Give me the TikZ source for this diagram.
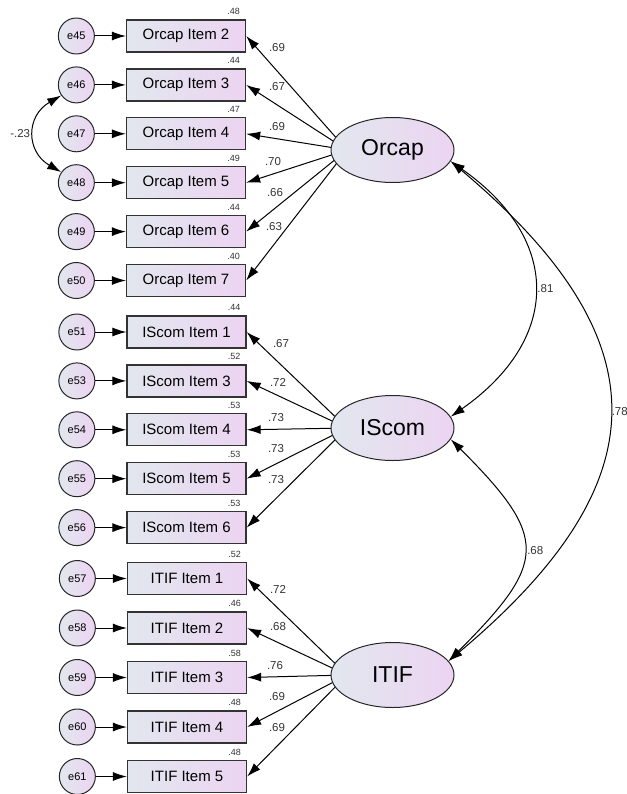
\documentclass[tikz,border=0pt]{standalone}
\usepackage{fontspec}
\setmainfont{Liberation Sans}
\usetikzlibrary{shapes, arrows.meta, calc, positioning}
\definecolor{shadeleft}{RGB}{226,231,238}
\definecolor{shaderight}{RGB}{236,212,242}
\tikzstyle{line} = [draw, line width=1pt, -{Latex[length=14pt,width=9pt]}]
\tikzstyle{cov} = [draw, line width=1pt, {Latex[length=14pt,width=9pt]}-{Latex[length=14pt,width=9pt]}]
\tikzstyle{item} = [rectangle, draw=black!80, line width=1.3pt, left color=shadeleft, right color=shaderight, minimum width=119pt, minimum height=32pt, inner sep=0pt, font=\fontsize{15}{18}\selectfont]
\tikzstyle{err} = [circle, draw=black!85, line width=1pt, left color=shadeleft, right color=shaderight, minimum size=36pt, inner sep=0pt, font=\fontsize{11}{13}\selectfont]
\tikzstyle{latent} = [ellipse, draw=black!85, line width=1pt, left color=shadeleft, right color=shaderight, minimum width=123pt, minimum height=65pt, inner sep=0pt, font=\fontsize{23}{26}\selectfont]
\tikzstyle{load} = [inner sep=0pt, font=\fontsize{11.5}{13}\selectfont, text=black!80]
\tikzstyle{rsq} = [inner sep=0pt, anchor=south east, xshift=-6pt, yshift=4.5pt, font=\fontsize{9}{11}\selectfont, text=black!80]

\begin{document}
\begin{tikzpicture}[x=1pt, y=1pt, node distance=15.6pt]
\useasboundingbox (0,0) rectangle (626,-794);
% Orcap indicators
\node [item] (o2) at (186,-36) {Orcap Item 2};
\node [item, below=of o2] (o3) {Orcap Item 3};
\node [item, below=of o3] (o4) {Orcap Item 4};
\node [item, below=of o4] (o5) {Orcap Item 5};
\node [item, below=of o5] (o6) {Orcap Item 6};
\node [item, below=of o6] (o7) {Orcap Item 7};
\node [err, left=31pt of o2] (e45) {e45};
\node [err, left=31pt of o3] (e46) {e46};
\node [err, left=31pt of o4] (e47) {e47};
\node [err, left=31pt of o5] (e48) {e48};
\node [err, left=31pt of o6] (e49) {e49};
\node [err, left=31pt of o7] (e50) {e50};
\node [rsq] (ro2) at (o2.north east) {.48};
\node [rsq] (ro3) at (o3.north east) {.44};
\node [rsq] (ro4) at (o4.north east) {.47};
\node [rsq] (ro5) at (o5.north east) {.49};
\node [rsq] (ro6) at (o6.north east) {.44};
\node [rsq] (ro7) at (o7.north east) {.40};
% IScom indicators
\node [item] (i1) at (186.5,-332) {IScom Item 1};
\node [item, below=of i1] (i3) {IScom Item 3};
\node [item, below=of i3] (i4) {IScom Item 4};
\node [item, below=of i4] (i5) {IScom Item 5};
\node [item, below=of i5] (i6) {IScom Item 6};
\node [err, left=31pt of i1] (e51) {e51};
\node [err, left=31pt of i3] (e53) {e53};
\node [err, left=31pt of i4] (e54) {e54};
\node [err, left=31pt of i5] (e55) {e55};
\node [err, left=31pt of i6] (e56) {e56};
\node [rsq] (ri1) at (i1.north east) {.44};
\node [rsq] (ri3) at (i3.north east) {.52};
\node [rsq] (ri4) at (i4.north east) {.53};
\node [rsq] (ri5) at (i5.north east) {.53};
\node [rsq] (ri6) at (i6.north east) {.53};
% ITIF indicators
\node [item] (t1) at (187,-578.5) {ITIF Item 1};
\node [item, below=16.2pt of t1] (t2) {ITIF Item 2};
\node [item, below=16.2pt of t2] (t3) {ITIF Item 3};
\node [item, below=16.2pt of t3] (t4) {ITIF Item 4};
\node [item, below=16.2pt of t4] (t5) {ITIF Item 5};
\node [err, left=31pt of t1] (e57) {e57};
\node [err, left=31pt of t2] (e58) {e58};
\node [err, left=31pt of t3] (e59) {e59};
\node [err, left=31pt of t4] (e60) {e60};
\node [err, left=31pt of t5] (e61) {e61};
\node [rsq] (rt1) at (t1.north east) {.52};
\node [rsq] (rt2) at (t2.north east) {.46};
\node [rsq] (rt3) at (t3.north east) {.58};
\node [rsq] (rt4) at (t4.north east) {.48};
\node [rsq] (rt5) at (t5.north east) {.48};
% errors
\path [line] (e45) -- (o2);
\path [line] (e46) -- (o3);
\path [line] (e47) -- (o4);
\path [line] (e48) -- (o5);
\path [line] (e49) -- (o6);
\path [line] (e50) -- (o7);
\path [line] (e51) -- (i1);
\path [line] (e53) -- (i3);
\path [line] (e54) -- (i4);
\path [line] (e55) -- (i5);
\path [line] (e56) -- (i6);
\path [line] (e57) -- (t1);
\path [line] (e58) -- (t2);
\path [line] (e59) -- (t3);
\path [line] (e60) -- (t4);
\path [line] (e61) -- (t5);
% loadings, drawn under the factors
\coordinate (orcapfoc) at (347,-150);
\coordinate (iscomfoc) at (347,-428);
\coordinate (itiffoc) at (347,-675);
\path [line] (orcapfoc) -- (o2.east);
\path [line] (orcapfoc) -- (o3.east);
\path [line] (orcapfoc) -- (o4.east);
\path [line] (orcapfoc) -- (o5.east);
\path [line] (orcapfoc) -- (o6.east);
\path [line] (orcapfoc) -- (o7.east);
\path [line] (iscomfoc) -- (i1.east);
\path [line] (iscomfoc) -- (i3.east);
\path [line] (iscomfoc) -- (i4.east);
\path [line] (iscomfoc) -- (i5.east);
\path [line] (iscomfoc) -- (i6.east);
\path [line] (itiffoc) -- (t1.east);
\path [line] (itiffoc) -- (t2.east);
\path [line] (itiffoc) -- (t3.east);
\path [line] (itiffoc) -- (t4.east);
\path [line] (itiffoc) -- (t5.east);
\node [load] (lo2) at (277,-48) {.69};
\node [load] (lo3) at (277,-87) {.67};
\node [load] (lo4) at (277,-127) {.69};
\node [load] (lo5) at (273,-162) {.70};
\node [load] (lo6) at (275,-193) {.66};
\node [load] (lo7) at (274,-227) {.63};
\node [load] (li1) at (281,-344) {.67};
\node [load] (li3) at (278,-382) {.72};
\node [load] (li4) at (276,-418) {.73};
\node [load] (li5) at (276,-449) {.73};
\node [load] (li6) at (276,-480) {.73};
\node [load] (lt1) at (278,-589) {.72};
\node [load] (lt2) at (278,-627) {.68};
\node [load] (lt3) at (275,-666) {.76};
\node [load] (lt4) at (277,-697) {.69};
\node [load] (lt5) at (277,-728) {.69};
% factors
\node [latent] (orcap) at (392.5,-150) {Orcap};
\node [latent] (iscom) at (392.5,-428) {IScom};
\node [latent] (itif) at (392.5,-675) {ITIF};
% covariances
\path [cov] (orcap.-11) to[out=-35, in=35, looseness=1.36] node[load, midway, right=3pt] (c1) {.81} (iscom.11);
\path [cov] (orcap.-11) to[out=-40, in=40, looseness=1.42] node[load, midway, right=2pt] (c2) {.78} (itif.14);
\path [cov] (iscom.-11) to[out=-45, in=45, looseness=1.61] node[load, midway, right=3pt] (c3) {.68} (itif.14);
\path [cov] (e46.215) to[out=210, in=150, looseness=1.37] node[load, midway, left=4pt] (c4) {-.23} (e48.145);
\end{tikzpicture}
\end{document}
